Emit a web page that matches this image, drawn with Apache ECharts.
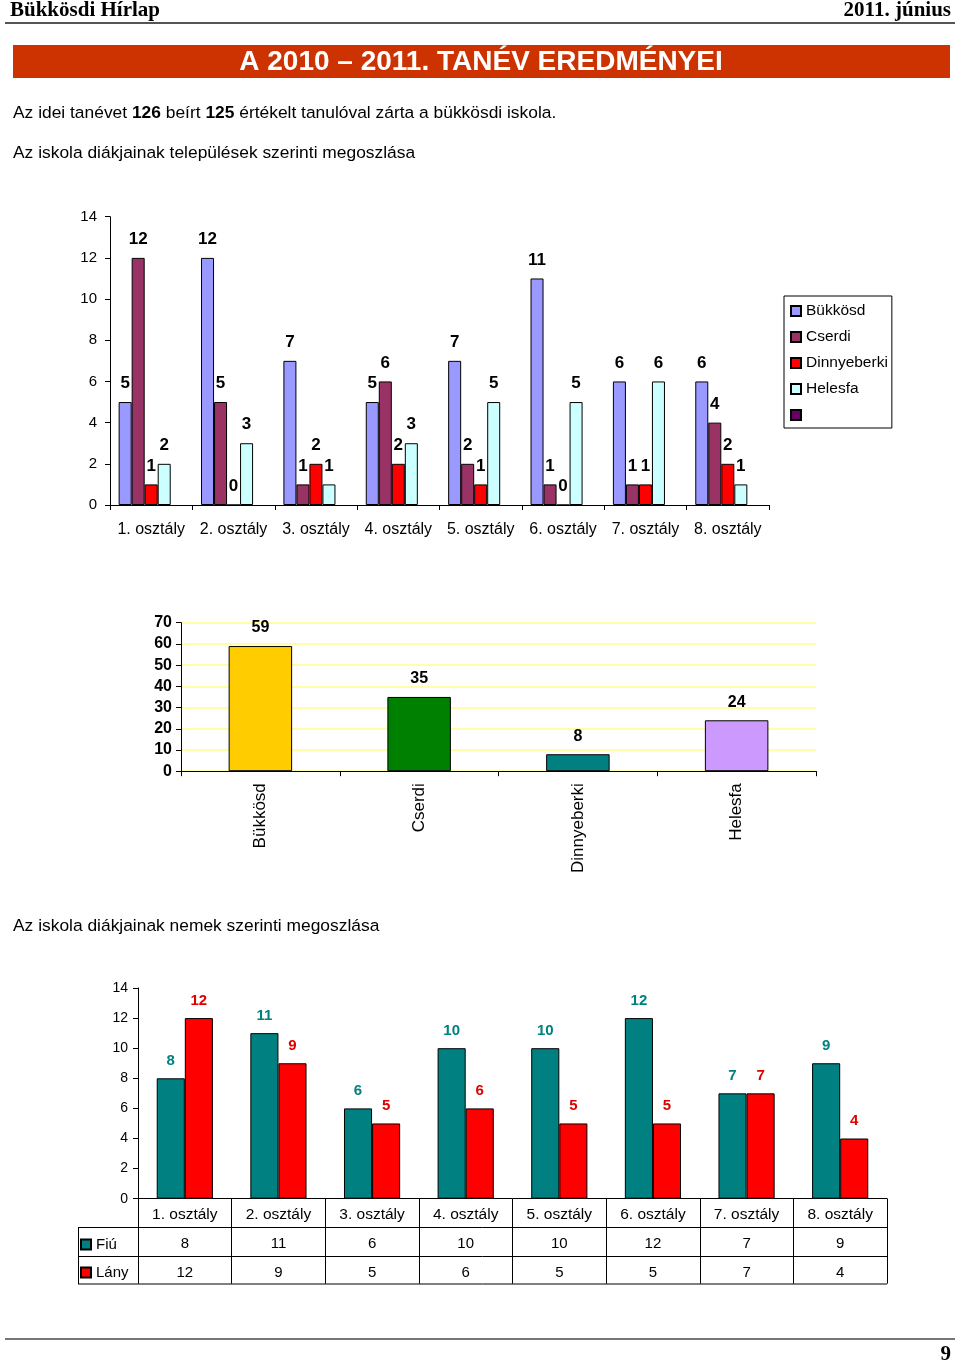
<!DOCTYPE html>
<html><head><meta charset="utf-8">
<script src="https://cdn.jsdelivr.net/npm/echarts@6/dist/echarts.min.js"></script>
<style>html,body{margin:0;padding:0;background:#fff}#c{width:960px;height:1363px}</style>
</head><body><div id="c"></div>
<script>
// ---- data ----
const classes = ['1. osztály','2. osztály','3. osztály','4. osztály','5. osztály','6. osztály','7. osztály','8. osztály'];
const seriesNames = ['Bükkösd','Cserdi','Dinnyeberki','Helesfa'];
const bukkosd     = [5,12,7,5,7,11,6,6];
const cserdi      = [12,5,1,6,2,1,1,4];
const dinnyeberki = [1,0,2,2,1,0,1,2];
const helesfa     = [2,3,1,3,5,5,6,1];
const emptySeries = [];
const villages = ['Bükkösd','Cserdi','Dinnyeberki','Helesfa'];
const villageTotals = [59,35,8,24];
const genderNames = ['Fiú','Lány'];
const fiu  = [8,11,6,10,10,12,7,9];
const lany = [12,9,5,6,5,5,7,4];

// ---- styles ----
const SANS = '"Liberation Sans", Arial, sans-serif';
const SERIF = '"Liberation Serif", "Times New Roman", serif';
const c1Colors = ['#9999FF','#993366','#FF0000','#CCFFFF'];
const c1EmptyColor = '#660066';
const c2Colors = ['#FFCC00','#008000','#008080','#CC99FF'];
const c3Colors = ['#008080','#FF0000'];
const c3LabelColors = ['#008080','#E00000'];

const G1 = {left:110, top:216.7, width:659, height:288.3};
const G2 = {left:181, top:622.7, width:635, height:148.5};
const G3 = {left:138, top:988, width:749, height:210.7};

const chart = echarts.init(document.getElementById('c'), null, {renderer:'canvas'});

const c1Data = [bukkosd, cserdi, dinnyeberki, helesfa];
const series = [];
c1Data.forEach((d,i)=>{
  series.push({
    type:'bar', name:seriesNames[i], data:d, xAxisIndex:0, yAxisIndex:0,
    barGap:'0%', barCategoryGap:'21%',
    itemStyle:{color:c1Colors[i], borderColor:'#000', borderWidth:1},
    label:{show:true, position:'top', distance:10, fontFamily:SANS, fontWeight:'bold', fontSize:17, color:'#000'}
  });
});
series.push({type:'bar', name:' ', data:emptySeries, xAxisIndex:0, yAxisIndex:0,
  barGap:'0%', barCategoryGap:'21%',
  itemStyle:{color:c1EmptyColor, borderColor:'#000', borderWidth:1}});
series.push({
  type:'bar', name:'Összesen', xAxisIndex:1, yAxisIndex:1, barCategoryGap:'60%',
  data: villageTotals.map((v,i)=>({value:v, itemStyle:{color:c2Colors[i]}})),
  itemStyle:{borderColor:'#000', borderWidth:1},
  label:{show:true, position:'top', distance:10, fontFamily:SANS, fontWeight:'bold', fontSize:16, color:'#000'}
});
[fiu, lany].forEach((d,i)=>{
  series.push({
    type:'bar', name:genderNames[i], data:d, xAxisIndex:2, yAxisIndex:2,
    barGap:'0%', barCategoryGap:'40%',
    itemStyle:{color:c3Colors[i], borderColor:'#000', borderWidth:1},
    label:{show:true, position:'top', distance:10, fontFamily:SANS, fontWeight:'bold', fontSize:15, color:c3LabelColors[i]}
  });
});

const axisBlack = {lineStyle:{color:'#000', width:1}};
function catAxis(idx, data, extra){
  return Object.assign({
    type:'category', gridIndex:idx, data:data,
    axisLine:Object.assign({show:true}, axisBlack),
    axisTick:{show:true, length:5, lineStyle:{color:'#000'}},
    axisLabel:{color:'#000', fontFamily:SANS, fontSize:16, margin:17, interval:0, hideOverlap:false},
    splitLine:{show:false}
  }, extra||{});
}
function valAxis(idx, max, interval, extra){
  return Object.assign({
    type:'value', gridIndex:idx, min:0, max:max, interval:interval,
    axisLine:Object.assign({show:true}, axisBlack),
    axisTick:{show:true, length:5, lineStyle:{color:'#000'}},
    axisLabel:{color:'#000', fontFamily:SANS, fontSize:14, margin:9},
    splitLine:{show:false}
  }, extra||{});
}

const xAxes = [
  catAxis(0, classes),
  catAxis(1, villages, {axisLabel:{color:'#000', fontFamily:SANS, fontSize:17, rotate:90, margin:12, interval:0}}),
  catAxis(2, classes, {
    axisTick:{show:true, length:85, lineStyle:{color:'#000'}},
    axisLabel:{color:'#000', margin:2, fontFamily:SANS, interval:0,
      formatter:(val, idx)=>'{c|'+val+'}\n{v|'+fiu[idx]+'}\n{v|'+lany[idx]+'}',
      rich:{c:{fontSize:15.5, lineHeight:29, fontFamily:SANS, color:'#000'},
            v:{fontSize:15, lineHeight:29, fontFamily:SANS, color:'#000'}}}
  })
];
const yAxes = [
  valAxis(0, 14, 2, {axisLabel:{color:'#000', fontFamily:SANS, fontSize:15, margin:13}}),
  valAxis(1, 70, 10, {
    axisLabel:{color:'#000', fontFamily:SANS, fontSize:16, fontWeight:'bold', margin:9},
    splitLine:{show:true, lineStyle:{color:'#FFFFA8', width:2}}
  }),
  valAxis(2, 14, 2, {axisLabel:{color:'#000', fontFamily:SANS, fontSize:14, margin:10}})
];

// table frame under chart 3 (layout lines)
const tRowH = [28.8, 29, 27.5];
const tTop = G3.top + G3.height;
const tLeft = 78;
const tRight = G3.left + G3.width;
const r1 = tTop + tRowH[0], r2 = r1 + tRowH[1], r3 = r2 + tRowH[2];
const tableLines = [
  {type:'line', shape:{x1:tLeft, y1:r1, x2:tRight, y2:r1}, style:{stroke:'#000', lineWidth:1}},
  {type:'line', shape:{x1:tLeft, y1:r2, x2:tRight, y2:r2}, style:{stroke:'#000', lineWidth:1}},
  {type:'line', shape:{x1:tLeft, y1:r3, x2:tRight, y2:r3}, style:{stroke:'#000', lineWidth:1}},
  {type:'line', shape:{x1:tLeft+0.5, y1:r1, x2:tLeft+0.5, y2:r3}, style:{stroke:'#000', lineWidth:1}}
];

const graphics = [
  {type:'text', style:{x:10, y:11, text:'Bükkösdi Hírlap', font:'bold 21px '+SERIF, fill:'#000', align:'left', verticalAlign:'middle'}},
  {type:'text', style:{x:951, y:11, text:'2011. június', font:'bold 21px '+SERIF, fill:'#000', align:'right', verticalAlign:'middle'}},
  {type:'line', shape:{x1:5, y1:23, x2:955, y2:23}, style:{stroke:'#555', lineWidth:2}},
  {type:'rect', shape:{x:13, y:45, width:937, height:33}, style:{fill:'#CC3300'}},
  {type:'text', style:{x:481, y:62, text:'A 2010 – 2011. TANÉV EREDMÉNYEI', font:'bold 28px '+SANS, fill:'#fff', align:'center', verticalAlign:'middle'}},
  {type:'text', style:{x:13, y:113, align:'left', verticalAlign:'middle',
    text:'{n|Az idei tanévet }{b|126}{n| beírt }{b|125}{n| értékelt tanulóval zárta a bükkösdi iskola.}',
    rich:{n:{font:'17.4px '+SANS, fill:'#000'}, b:{font:'bold 17.4px '+SANS, fill:'#000'}}}},
  {type:'text', style:{x:13, y:153, text:'Az iskola diákjainak települések szerinti megoszlása', font:'17.4px '+SANS, fill:'#000', align:'left', verticalAlign:'middle'}},
  {type:'text', style:{x:13, y:926, text:'Az iskola diákjainak nemek szerinti megoszlása', font:'17.4px '+SANS, fill:'#000', align:'left', verticalAlign:'middle'}},
  {type:'line', shape:{x1:5, y1:1339, x2:955, y2:1339}, style:{stroke:'#777', lineWidth:2}},
  {type:'text', style:{x:951, y:1355, text:'9', font:'bold 21px '+SERIF, fill:'#000', align:'right', verticalAlign:'middle'}}
].concat(tableLines);

chart.setOption({
  animation:false,
  backgroundColor:'#fff',
  grid:[
    Object.assign({containLabel:false}, G1),
    Object.assign({containLabel:false}, G2),
    Object.assign({containLabel:false}, G3)
  ],
  xAxis:xAxes,
  yAxis:yAxes,
  legend:[
    {data:seriesNames.concat([' ']), orient:'vertical', left:784, top:296, icon:'rect',
     itemWidth:10, itemHeight:10, itemGap:10, padding:[7,4,5,6],
     borderColor:'#000', borderWidth:1, selectedMode:false,
     textStyle:{fontFamily:SANS, fontSize:15.5, color:'#000'}},
    {data:genderNames, orient:'vertical', left:80, top:1237, icon:'rect',
     itemWidth:10, itemHeight:10, itemGap:13, padding:0, selectedMode:false,
     textStyle:{fontFamily:SANS, fontSize:15, color:'#000'}}
  ],
  series:series,
  graphic:graphics
});
</script></body></html>
